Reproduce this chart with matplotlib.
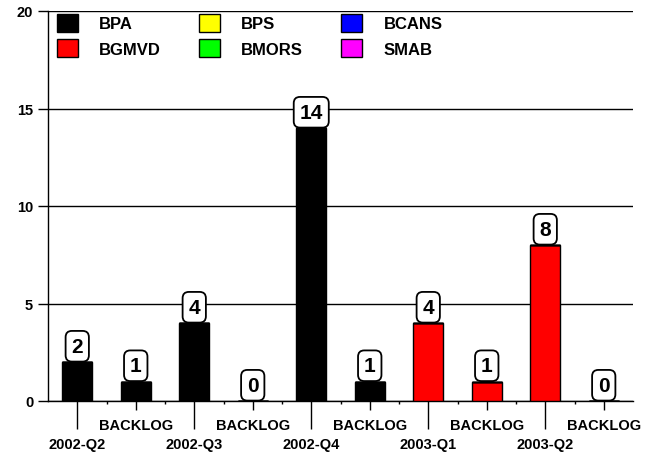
import matplotlib
matplotlib.use("Agg")
import matplotlib.pyplot as plt
import numpy as np

plt.rcParams['font.family'] = ['Liberation Sans', 'DejaVu Sans']
plt.rcParams['font.weight'] = 'bold'

categories = ["2002-Q2", "BACKLOG", "2002-Q3", "BACKLOG", "2002-Q4",
              "BACKLOG", "2003-Q1", "BACKLOG", "2003-Q2", "BACKLOG"]
series_names = ["BPA", "BGMVD", "BPS", "BMORS", "BCANS", "SMAB"]
series_colors = ["#000000", "#FF0000", "#FFFF00", "#00FF00", "#0000FF", "#FF00FF"]
BPA   = [2, 1, 4, 0, 14, 1, 0, 0, 0, 0]
BGMVD = [0, 0, 0, 0, 0, 0, 4, 1, 8, 0]
BPS   = [0, 0, 0, 0, 0, 0, 0, 0, 0, 0]
BMORS = [0, 0, 0, 0, 0, 0, 0, 0, 0, 0]
BCANS = [0, 0, 0, 0, 0, 0, 0, 0, 0, 0]
SMAB  = [0, 0, 0, 0, 0, 0, 0, 0, 0, 0]
series_values = [BPA, BGMVD, BPS, BMORS, BCANS, SMAB]
yticks = [0, 5, 10, 15, 20]

W, H = 654, 456
fig = plt.figure(figsize=(W / 100, H / 100), dpi=100)
ax = fig.add_axes([48 / W, 1 - 402 / H, (633 - 48) / W, (402 - 12) / H])

x = np.arange(len(categories))
bottom = np.zeros(len(categories))
handles = []
for name, vals, col in zip(series_names, series_values, series_colors):
    v = np.array(vals, dtype=float)
    b = ax.bar(x, v, width=0.51, bottom=bottom, color=col, edgecolor='black',
               linewidth=1, label=name, zorder=3)
    handles.append(b)
    bottom += v

totals = bottom
for xi, t in zip(x, totals):
    ax.annotate(f"{int(t)}", (xi, t), xytext=(0, 4.5), textcoords='offset points',
                ha='center', va='bottom', fontsize=15, fontweight='bold',
                bbox=dict(boxstyle='round,pad=0.28,rounding_size=0.3', fc='white',
                          ec='black', lw=1.3), zorder=5)

ax.set_xlim(-0.5, len(categories) - 0.5)
ax.set_ylim(0, 20)
ax.set_yticks(yticks)
ax.set_yticklabels([str(v) for v in yticks], fontsize=10.5, fontweight='bold')
ax.tick_params(axis='y', length=7.2, width=1, pad=3.5, direction='out')
ax.grid(axis='y', color='black', linewidth=1, zorder=0)
ax.set_axisbelow(True)

major = x[::2]
minor = x[1::2]
ax.set_xticks(major)
ax.set_xticklabels([categories[i] for i in major], fontsize=10.5, fontweight='bold')
ax.set_xticks(minor, minor=True)
ax.set_xticklabels([categories[i] for i in minor], minor=True, fontsize=10.5,
                   fontweight='bold')
ax.tick_params(axis='x', which='major', length=20, width=1, pad=6, direction='out')
ax.tick_params(axis='x', which='minor', length=6.5, width=1, pad=6, direction='out')

sec = ax.secondary_xaxis('bottom')
sec.set_xticks(np.arange(0.5, len(categories) - 1, 1.0))
sec.set_xticklabels([])
sec.tick_params(length=2.5, width=1, direction='out')
sec.spines['bottom'].set_visible(False)

for s in ['top', 'right']:
    ax.spines[s].set_visible(False)
ax.spines['left'].set_linewidth(1)
ax.spines['bottom'].set_linewidth(1)

leg = ax.legend(handles=handles, ncol=3, loc='upper left',
                bbox_to_anchor=(9 / 585, 1 - 3 / 390), frameon=False,
                prop={'size': 12, 'weight': 'bold'}, handlelength=1.26,
                handleheight=1.26, handletextpad=1.26, columnspacing=2.3,
                labelspacing=0.45, borderpad=0, borderaxespad=0)

fig.savefig("out.png", dpi=100)
